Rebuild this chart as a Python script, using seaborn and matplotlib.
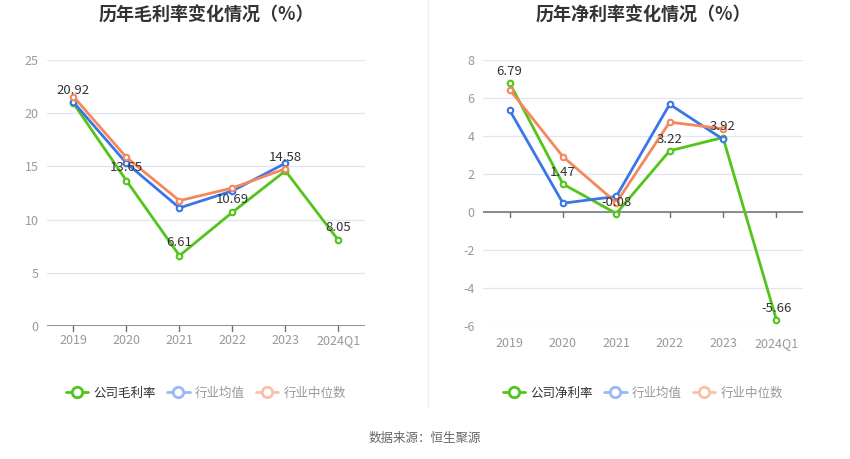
import pandas as pd
import matplotlib.pyplot as plt
from matplotlib.lines import Line2D
import seaborn as sns

periods = ["2019", "2020", "2021", "2022", "2023", "2024Q1"]

grossCompany = [20.92, 13.65, 6.61, 10.69, 14.58, 8.05]
grossMean = [21.03, 15.3, 11.1, 12.7, 15.3, None]
grossMedian = [21.56, 15.84, 11.78, 12.97, 14.78, None]

netCompany = [6.79, 1.47, -0.08, 3.22, 3.92, -5.66]
netMean = [5.36, 0.46, 0.82, 5.67, 3.83, None]
netMedian = [6.44, 2.91, 0.49, 4.73, 4.38, None]

GREEN = "#52c41a"
BLUE = "#3a76e8"
ORANGE = "#f5875c"

sns.set_style("white")
plt.rcParams['font.family'] = ['Noto Sans CJK SC', 'DejaVu Sans']


def drawPanel(ax, title, company, mean, median, companyName, yticks):
    frame = pd.DataFrame({"x": list(range(len(periods))), "company": company,
                          "mean": mean, "median": median})
    for col, color, z in [("company", GREEN, 3), ("mean", BLUE, 4), ("median", ORANGE, 5)]:
        sub = frame.dropna(subset=[col])
        sns.lineplot(data=sub, x="x", y=col, ax=ax, color=color, linewidth=2, zorder=z,
                     marker="o", markersize=4, markerfacecolor="white",
                     markeredgecolor=color, markeredgewidth=1.5)

    for i, v in enumerate(company):
        ax.text(i, v + (yticks[1] - yticks[0]) * 0.12, f"{v:.2f}", ha="center", va="bottom",
                fontsize=9.5, color="#333333", zorder=10)

    ax.set_xlim(-0.5, len(periods) - 0.5)
    ax.set_ylim(yticks[0], yticks[-1])
    ax.set_yticks(yticks)
    ax.set_yticklabels([str(t) for t in yticks], fontsize=9, color="#999999")
    ax.set_xticks(range(len(periods)))
    ax.set_xticklabels(periods, fontsize=9, color="#999999")
    ax.set_xlabel("")
    ax.set_ylabel("")
    for t in yticks:
        ax.axhline(t, color="#e0e6f1", linewidth=0.9, zorder=0)
    for s in ["top", "right", "left", "bottom"]:
        ax.spines[s].set_visible(False)
    ax.axhline(0, color="#6e7079", linewidth=1.1, zorder=1)
    for i in range(len(periods)):
        ax.plot([i, i], [0, -(yticks[-1] - yticks[0]) * 0.018], color="#6e7079",
                linewidth=1, clip_on=False, zorder=1)
    ax.tick_params(axis="both", length=0, pad=6)
    if yticks[0] < 0:
        ax.tick_params(axis="x", pad=8)
    ax.text(0.5, 1.168, title, transform=ax.transAxes, ha="center", va="center",
            fontsize=13, fontweight="bold", color="#333333")

    handles = [
        Line2D([0], [0], color=GREEN, lw=2, marker="o", markersize=7.5,
               markerfacecolor="white", markeredgecolor=GREEN, markeredgewidth=2),
        Line2D([0], [0], color="#9bb8f2", lw=2, marker="o", markersize=7.5,
               markerfacecolor="white", markeredgecolor="#9bb8f2", markeredgewidth=2),
        Line2D([0], [0], color="#f9c0a8", lw=2, marker="o", markersize=7.5,
               markerfacecolor="white", markeredgecolor="#f9c0a8", markeredgewidth=2),
    ]
    leg = ax.legend(handles, [companyName, "行业均值", "行业中位数"], loc="upper center",
                    bbox_to_anchor=(0.5, -0.185), ncol=3, frameon=False, fontsize=9,
                    handlelength=1.8, handletextpad=0.4, columnspacing=0.9)
    colors = ["#333333", "#999999", "#999999"]
    for txt, c in zip(leg.get_texts(), colors):
        txt.set_color(c)


fig = plt.figure(figsize=(8.5, 4.59), dpi=100)
axLeft = fig.add_axes([0.0553, 0.2898, 0.374, 0.5795])
axRight = fig.add_axes([0.5682, 0.2898, 0.3765, 0.5795])

drawPanel(axLeft, "历年毛利率变化情况（%）", grossCompany, grossMean, grossMedian,
          "公司毛利率", [0, 5, 10, 15, 20, 25])
drawPanel(axRight, "历年净利率变化情况（%）", netCompany, netMean, netMedian,
          "公司净利率", [-6, -4, -2, 0, 2, 4, 6, 8])

fig.add_artist(Line2D([427.5 / 850, 427.5 / 850], [1 - 407 / 459, 1.0],
                      color="#eeeeee", linewidth=1))
fig.text(0.5, 1 - 438 / 459, "数据来源：恒生聚源", ha="center", va="center",
         fontsize=9, color="#666666")

fig.savefig("out.png", dpi=100)
